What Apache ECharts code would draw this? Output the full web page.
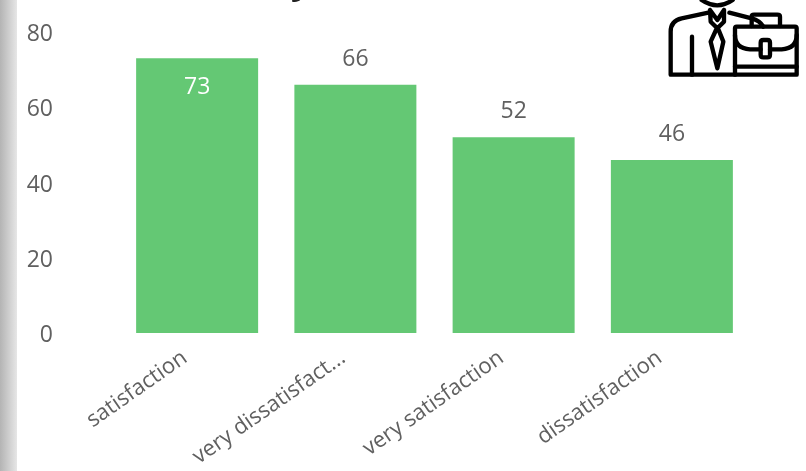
<!DOCTYPE html>
<html><head><meta charset="utf-8">
<style>html,body{margin:0;padding:0;background:#fff}#c{width:806px;height:471px}</style>
<script src="https://cdn.jsdelivr.net/npm/echarts@6/dist/echarts.min.js"></script>
</head><body><div id="c"></div>
<script>
const categories = ['satisfaction', 'very dissatisfact...', 'very satisfaction', 'dissatisfaction'];
const counts = [73, 66, 52, 46];
const yTicks = { min: 0, max: 80, interval: 20 };
const FONT = '"Open Sans", sans-serif';
const iconPaths = [
  'M205 38 L125 55 Q92 62 92 95 L92 224 L285 224',
  'M268 38 L335 55 Q360 62 370 80',
  'M156 110 L156 224',
  'M185 0 Q232 32 278 0',
  'M210 30 L232 60 L252 30 M210 30 L212 65 L232 85 L252 65 L252 30',
  'M228 90 L212 125 L232 205 L250 125 L236 90',
  'M290 80 L465 80 Q470 80 470 85 L470 224 L285 224 L285 85 Q285 80 290 80 Z',
  'M285 105 Q285 145 330 148 L362 148 M390 148 L425 148 Q470 145 470 105',
  'M370 120 L382 120 Q390 120 390 128 L390 164 Q390 172 382 172 L370 172 Q362 172 362 164 L362 128 Q362 120 370 120 Z',
  'M335 78 L335 50 Q335 44 342 44 L412 44 Q420 44 420 50 L420 78',
  'M285 200 L470 200'
];
iconPaths.forEach((d, i) => echarts.graphic.registerShape('icon' + i, echarts.graphic.extendPath(d, {})));
const chart = echarts.init(document.getElementById('c'));
chart.setOption({
  animation: false,
  backgroundColor: '#fff',
  textStyle: { fontFamily: FONT },
  grid: { left: 118, top: 32, width: 633, height: 301 },
  xAxis: {
    type: 'category', data: categories,
    axisLine: { show: false }, axisTick: { show: false },
    axisLabel: { interval: 0, rotate: 35, fontSize: 22, color: '#606060', fontFamily: FONT, margin: 14, padding: [0, 15, 0, 0] }
  },
  yAxis: {
    type: 'value', min: yTicks.min, max: yTicks.max, interval: yTicks.interval,
    splitLine: { show: false }, axisLine: { show: false }, axisTick: { show: false },
    axisLabel: { fontSize: 23, color: '#606060', fontFamily: FONT, margin: 65, verticalAlign: 'top', lineHeight: 5 }
  },
  series: [{
    type: 'bar', barWidth: 122,
    itemStyle: { color: '#64c874' },
    label: { show: true, position: 'top', distance: 14, fontSize: 23, color: '#606060', fontFamily: FONT },
    data: counts.map((v, i) => i === 0
      ? { value: v, label: { position: 'insideTop', distance: 18, color: '#fff' } }
      : v)
  }],
  graphic: [
    { type: 'rect', shape: { x: 0, y: 0, width: 17, height: 471 }, silent: true,
      style: { fill: new echarts.graphic.LinearGradient(0, 0, 1, 0, [
        { offset: 0, color: '#b4b4b4' }, { offset: 1, color: '#e6e6e6' }]) } },
    { type: 'text', x: 291, y: -33, silent: true,
      style: { text: 'y', font: 'bold 34px ' + FONT, fill: '#222' } },
    ...iconPaths.map((d, i) => ({
      type: 'icon' + i, x: 640, y: 0, scaleX: 1 / 3, scaleY: 1 / 3, silent: true,
      style: { fill: null, stroke: '#000', lineWidth: 13, lineJoin: 'round', lineCap: 'round' }
    }))
  ]
});
</script></body></html>
